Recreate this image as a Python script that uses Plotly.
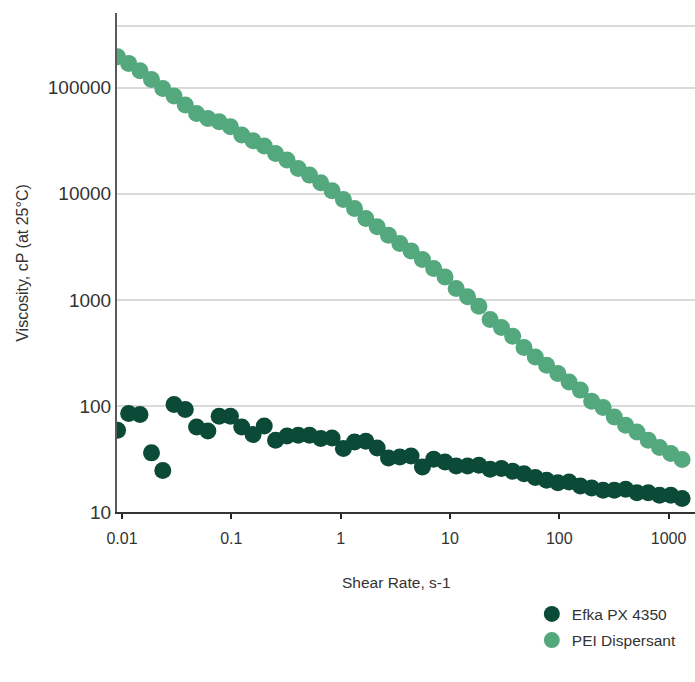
import plotly.graph_objects as go

# Shear rate sweep (s-1), shared by both samples
shear_rate = [
    0.0091, 0.0115, 0.0146, 0.0186, 0.0236, 0.0299, 0.0379, 0.0481, 0.0610, 0.0774,
    0.0982, 0.1245, 0.158, 0.200, 0.254, 0.323, 0.409, 0.519, 0.658, 0.835,
    1.06, 1.34, 1.70, 2.16, 2.74, 3.48, 4.41, 5.60, 7.10, 9.01,
    11.4, 14.5, 18.4, 23.3, 29.6, 37.5, 47.6, 60.4, 76.6, 97.2,
    123, 156, 198, 252, 319, 405, 514, 652, 827, 1049, 1331,
]

# Viscosity, cP at 25 °C
efka_px4350 = [
    59.0, 84.7, 82.9, 36.1, 24.6, 103, 92.5, 63.4, 58.1, 80.0,
    80.0, 63.4, 53.7, 64.7, 47.4, 52.1, 52.9, 52.9, 49.2, 49.9,
    39.6, 45.7, 46.4, 40.1, 32.3, 33.0, 33.7, 26.6, 31.4, 29.6,
    27.2, 27.2, 27.6, 25.3, 25.7, 24.2, 23.0, 21.1, 19.9, 18.9,
    19.2, 17.6, 16.8, 16.0, 16.0, 16.4, 15.2, 15.2, 14.4, 14.4, 13.4,
]
pei_dispersant = [
    196000, 169800, 144500, 119900, 98600, 83500, 68700, 57300, 51400, 47750,
    42850, 35800, 31620, 28180, 24040, 20800, 17370, 15010, 12700, 10670,
    8850, 7280, 5860, 4885, 4077, 3404, 2898, 2404, 1977, 1648,
    1282, 1068, 872, 653, 549, 455, 356, 290, 242, 202,
    168, 141, 111, 96.6, 78.8, 65.7, 56.9, 47.5, 40.5, 35.6, 31.2,
]

x_ticks = [0.01, 0.1, 1, 10, 100, 1000]
x_tick_labels = ["0.01", "0.1", "1", "10", "100", "1000"]
y_ticks = [10, 100, 1000, 10000, 100000, 383000]
y_tick_labels = ["10", "100", "1000", "10000", "100000", ""]

DARK = "#0b4a36"
LIGHT = "#54a87d"
TEXT = "#333333"
FONT = "Liberation Sans, Arial, sans-serif"

fig = go.Figure()
fig.add_trace(go.Scatter(
    x=shear_rate, y=efka_px4350, mode="markers", name="Efka PX 4350",
    legendgroup="efka",
    marker=dict(color=DARK, size=17, line=dict(width=0)),
))
fig.add_trace(go.Scatter(
    x=shear_rate, y=pei_dispersant, mode="markers", name="PEI Dispersant",
    legendgroup="pei",
    marker=dict(color=LIGHT, size=17, line=dict(width=0)),
))

fig.update_layout(
    width=695, height=682,
    margin=dict(l=117, r=0, t=13, b=170),
    paper_bgcolor="white", plot_bgcolor="white",
    font=dict(family=FONT, color=TEXT, size=15.5),
    showlegend=True,
    legend=dict(
        x=0.7177, y=-0.171, xanchor="left", yanchor="top",
        font=dict(family=FONT, size=15.5, color=TEXT),
        itemsizing="trace", tracegroupgap=3, bgcolor="rgba(0,0,0,0)",
    ),
    xaxis=dict(
        type="log", range=[-2.046, 3.242],
        tickmode="array", tickvals=x_ticks, ticktext=x_tick_labels,
        ticks="outside", ticklen=5, tickwidth=2, tickcolor="#222222",
        showgrid=False, zeroline=False,
        showline=True, linecolor="#333333", linewidth=1.5,
        ticklabelstandoff=6,
        tickfont=dict(family=FONT, size=16, color=TEXT),
    ),
    yaxis=dict(
        type="log", range=[1, 5.705],
        tickmode="array", tickvals=y_ticks, ticktext=y_tick_labels,
        ticks="", showgrid=True, gridcolor="#dadada", gridwidth=2,
        zeroline=False, showline=True, linecolor="#5a5a5a", linewidth=2,
        ticklabelstandoff=0,
        tickfont=dict(family=FONT, size=19, color=TEXT),
    ),
    annotations=[
        dict(text="Shear Rate, s-1", xref="paper", yref="paper",
             x=0.4844, y=-0.1403, xanchor="center", yanchor="middle",
             showarrow=False, font=dict(family=FONT, size=15.5, color=TEXT)),
        dict(text="Viscosity, cP (at 25°C)", xref="paper", yref="paper",
             x=-0.163, y=0.499, xanchor="center", yanchor="middle", textangle=-90,
             showarrow=False, font=dict(family=FONT, size=16, color=TEXT)),
    ],
)

fig.write_html("out.html")
